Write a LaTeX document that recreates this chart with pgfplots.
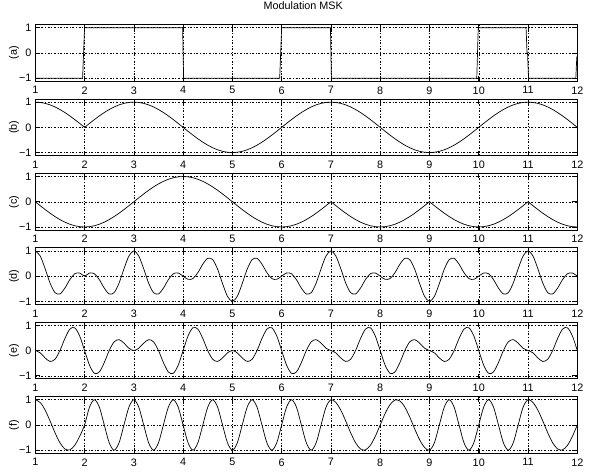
\documentclass[border=0pt]{standalone}
\usepackage{fontspec}
\setmainfont{Liberation Sans}
\usepackage{pgfplots}
\usepackage{pgfplotstable}
\pgfplotsset{compat=1.18}

% columns: time, I envelope, Q envelope, I channel, Q channel, MSK signal
\pgfplotstableread{
x b c d e f
1.0 1 0 1 0 1
1.1 .9877 -.1564 .7990 -.0919 .8910
1.2 .9511 -.3090 .2939 -.2939 .5878
1.3 .8910 -.4540 -.2753 -.4318 .1564
1.4 .8090 -.5878 -.6545 -.3455 -.3090
1.5 .7071 -.7071 -.7071 0 -.7071
1.6 .5878 -.8090 -.4755 .4755 -.9511
1.7 .4540 -.8910 -.1403 .8474 -.9877
1.8 .3090 -.9511 .0955 .9046 -.8090
1.9 .1564 -.9877 .1265 .5806 -.4540
2.0 0 -1 0 0 0
2.1 .1564 -.9877 .1265 -.5806 .7071
2.2 .3090 -.9511 .0955 -.9046 1
2.3 .4540 -.8910 -.1403 -.8474 .7071
2.4 .5878 -.8090 -.4755 -.4755 0
2.5 .7071 -.7071 -.7071 0 -.7071
2.6 .8090 -.5878 -.6545 .3455 -1
2.7 .8910 -.4540 -.2753 .4318 -.7071
2.8 .9511 -.3090 .2939 .2939 0
2.9 .9877 -.1564 .7990 .0919 .7071
3.0 1 0 1 0 1
3.1 .9877 .1564 .7990 .0919 .7071
3.2 .9511 .3090 .2939 .2939 0
3.3 .8910 .4540 -.2753 .4318 -.7071
3.4 .8090 .5878 -.6545 .3455 -1
3.5 .7071 .7071 -.7071 0 -.7071
3.6 .5878 .8090 -.4755 -.4755 0
3.7 .4540 .8910 -.1403 -.8474 .7071
3.8 .3090 .9511 .0955 -.9046 1
3.9 .1564 .9877 .1265 -.5806 .7071
4.0 0 1 0 0 0
4.1 -.1564 .9877 -.1265 .5806 -.7071
4.2 -.3090 .9511 -.0955 .9046 -1
4.3 -.4540 .8910 .1403 .8474 -.7071
4.4 -.5878 .8090 .4755 .4755 0
4.5 -.7071 .7071 .7071 0 .7071
4.6 -.8090 .5878 .6545 -.3455 1
4.7 -.8910 .4540 .2753 -.4318 .7071
4.8 -.9511 .3090 -.2939 -.2939 0
4.9 -.9877 .1564 -.7990 -.0919 -.7071
5.0 -1 0 -1 0 -1
5.1 -.9877 -.1564 -.7990 -.0919 -.7071
5.2 -.9511 -.3090 -.2939 -.2939 0
5.3 -.8910 -.4540 .2753 -.4318 .7071
5.4 -.8090 -.5878 .6545 -.3455 1
5.5 -.7071 -.7071 .7071 0 .7071
5.6 -.5878 -.8090 .4755 .4755 0
5.7 -.4540 -.8910 .1403 .8474 -.7071
5.8 -.3090 -.9511 -.0955 .9046 -1
5.9 -.1564 -.9877 -.1265 .5806 -.7071
6.0 0 -1 0 0 0
6.1 .1564 -.9877 .1265 -.5806 .7071
6.2 .3090 -.9511 .0955 -.9046 1
6.3 .4540 -.8910 -.1403 -.8474 .7071
6.4 .5878 -.8090 -.4755 -.4755 0
6.5 .7071 -.7071 -.7071 0 -.7071
6.6 .8090 -.5878 -.6545 .3455 -1
6.7 .8910 -.4540 -.2753 .4318 -.7071
6.8 .9511 -.3090 .2939 .2939 0
6.9 .9877 -.1564 .7990 .0919 .7071
7.0 1 0 1 0 1
7.1 .9877 -.1564 .7990 -.0919 .8910
7.2 .9511 -.3090 .2939 -.2939 .5878
7.3 .8910 -.4540 -.2753 -.4318 .1564
7.4 .8090 -.5878 -.6545 -.3455 -.3090
7.5 .7071 -.7071 -.7071 0 -.7071
7.6 .5878 -.8090 -.4755 .4755 -.9511
7.7 .4540 -.8910 -.1403 .8474 -.9877
7.8 .3090 -.9511 .0955 .9046 -.8090
7.9 .1564 -.9877 .1265 .5806 -.4540
8.0 0 -1 0 0 0
8.1 -.1564 -.9877 -.1265 -.5806 .4540
8.2 -.3090 -.9511 -.0955 -.9046 .8090
8.3 -.4540 -.8910 .1403 -.8474 .9877
8.4 -.5878 -.8090 .4755 -.4755 .9511
8.5 -.7071 -.7071 .7071 0 .7071
8.6 -.8090 -.5878 .6545 .3455 .3090
8.7 -.8910 -.4540 .2753 .4318 -.1564
8.8 -.9511 -.3090 -.2939 .2939 -.5878
8.9 -.9877 -.1564 -.7990 .0919 -.8910
9.0 -1 0 -1 0 -1
9.1 -.9877 -.1564 -.7990 -.0919 -.7071
9.2 -.9511 -.3090 -.2939 -.2939 0
9.3 -.8910 -.4540 .2753 -.4318 .7071
9.4 -.8090 -.5878 .6545 -.3455 1
9.5 -.7071 -.7071 .7071 0 .7071
9.6 -.5878 -.8090 .4755 .4755 0
9.7 -.4540 -.8910 .1403 .8474 -.7071
9.8 -.3090 -.9511 -.0955 .9046 -1
9.9 -.1564 -.9877 -.1265 .5806 -.7071
10.0 0 -1 0 0 0
10.1 .1564 -.9877 .1265 -.5806 .7071
10.2 .3090 -.9511 .0955 -.9046 1
10.3 .4540 -.8910 -.1403 -.8474 .7071
10.4 .5878 -.8090 -.4755 -.4755 0
10.5 .7071 -.7071 -.7071 0 -.7071
10.6 .8090 -.5878 -.6545 .3455 -1
10.7 .8910 -.4540 -.2753 .4318 -.7071
10.8 .9511 -.3090 .2939 .2939 0
10.9 .9877 -.1564 .7990 .0919 .7071
11.0 1 0 1 0 1
11.1 .9877 -.1564 .7990 -.0919 .8910
11.2 .9511 -.3090 .2939 -.2939 .5878
11.3 .8910 -.4540 -.2753 -.4318 .1564
11.4 .8090 -.5878 -.6545 -.3455 -.3090
11.5 .7071 -.7071 -.7071 0 -.7071
11.6 .5878 -.8090 -.4755 .4755 -.9511
11.7 .4540 -.8910 -.1403 .8474 -.9877
11.8 .3090 -.9511 .0955 .9046 -.8090
11.9 .1564 -.9877 .1265 .5806 -.4540
12.0 0 -1 0 0 0
}\msk

\pgfplotsset{
  panel/.style={
    scale only axis, width=542pt, height=56.5pt,
    anchor=north west,
    xmin=1, xmax=12, ymin=-1.12, ymax=1.12,
    xtick={1,2,...,12}, ytick={-1,0,1}, yticklabels={−1,0,1},
    tick align=inside, xtick pos=both, ytick pos=both,
    xticklabel pos=lower, yticklabel pos=left,
    major tick length=5pt,
    grid=major,
    major grid style={black, line width=0.45pt, dash pattern=on 2pt off 1.8pt on 0.6pt off 1.8pt},
    axis line style={line width=0.8pt},
    tick style={black, line width=0.6pt},
    xticklabel style={yshift=-1.5pt},
    ylabel style={at={(axis description cs:-0.039,0.5)}, anchor=center},
    cycle list={{black, no marks, line width=0.7pt}},
    /pgf/number format/assume math mode=true,
  }
}

\begin{document}
\fontsize{10.8}{13}\selectfont
\begin{tikzpicture}
\path[use as bounding box] (0pt,0pt) rectangle (590pt,474pt);

\begin{axis}[panel, at={(35.3pt,449.3pt)}, ylabel={(a)},
  title={Modulation MSK},
  title style={at={(axis description cs:0.5,1)}, anchor=base, yshift=8.7pt, xshift=-3pt}]
\addplot[black, no marks, line width=0.7pt] coordinates {(1,-1) (1.96,-1) (2,1) (3.99,1) (4.01,-1) (5.96,-1) (6,1)
  (6.99,1) (7.01,-1) (9.96,-1) (9.99,1) (10.96,1) (10.98,0) (10.99,0) (11.01,-1)
  (11.97,-1) (11.99,-0.15)};
\end{axis}

\begin{axis}[panel, at={(35.3pt,374.9pt)}, ylabel={(b)}]
\addplot[black, no marks, line width=0.7pt] table[x=x, y=b] {\msk};
\end{axis}

\begin{axis}[panel, at={(35.3pt,300.5pt)}, ylabel={(c)}]
\addplot[black, no marks, line width=0.7pt] table[x=x, y=c] {\msk};
\end{axis}

\begin{axis}[panel, at={(35.3pt,226.1pt)}, ylabel={(d)}]
\addplot[black, no marks, line width=0.7pt, smooth] table[x=x, y=d] {\msk};
\end{axis}

\begin{axis}[panel, at={(35.3pt,151.7pt)}, ylabel={(e)}]
\addplot[black, no marks, line width=0.7pt, smooth] table[x=x, y=e] {\msk};
\end{axis}

\begin{axis}[panel, at={(35.3pt,77.3pt)}, ylabel={(f)}]
\addplot[black, no marks, line width=0.7pt, smooth] table[x=x, y=f] {\msk};
\end{axis}
\end{tikzpicture}
\end{document}
